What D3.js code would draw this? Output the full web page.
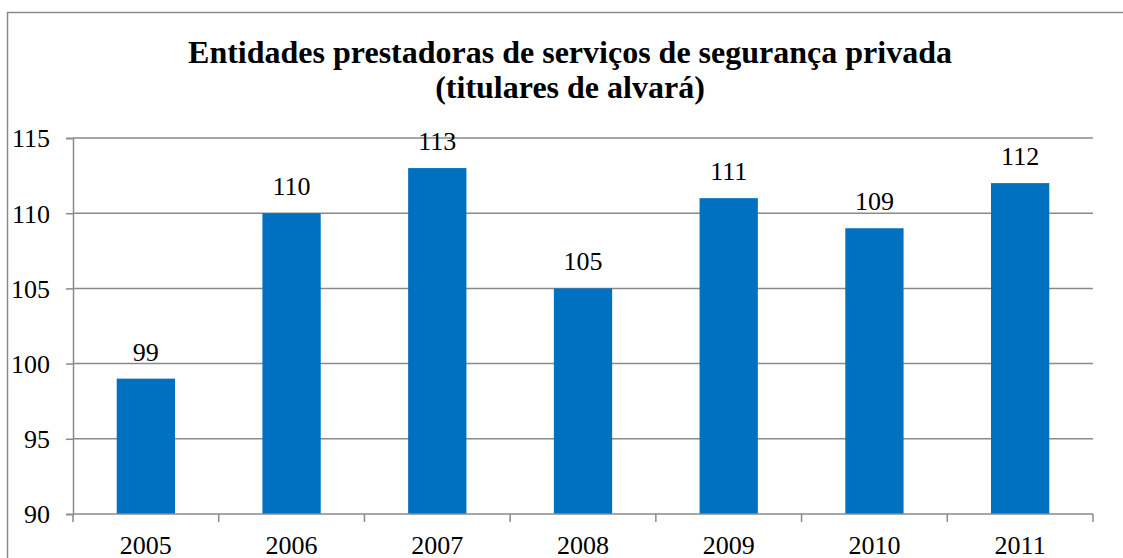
<!DOCTYPE html>
<html>
<head>
<meta charset="utf-8">
<script src="https://cdn.jsdelivr.net/npm/d3@7"></script>
<style>
  html, body { margin: 0; padding: 0; background: #fff; }
  svg { display: block; }
  text { font-family: "Liberation Serif", "Times New Roman", serif; }
</style>
</head>
<body>
<svg id="chart" width="1123" height="558"></svg>
<script>
"use strict"

var years = ["2005", "2006", "2007", "2008", "2009", "2010", "2011"]
var values = [99, 110, 113, 105, 111, 109, 112]
var yTicks = [90, 95, 100, 105, 110, 115]
var titleLines = ["Entidades prestadoras de serviços de segurança privada", "(titulares de alvará)"]

var svg = d3.select("#chart")
var W = 1123, H = 558
var m = { left: 73, right: 1093, top: 138, bottom: 514 }
var gray = "#8a8a8a"
var serif = "'Liberation Serif', 'Times New Roman', serif"

// outer chart border (runs off the right and bottom of the picture)
svg.append("rect")
  .attr("x", 7.5).attr("y", 12.5)
  .attr("width", W + 20).attr("height", H + 20)
  .attr("fill", "none").attr("stroke", gray).attr("stroke-width", 1.5)

var x = d3.scaleBand().domain(years).range([m.left, m.right]).paddingInner(0.6).paddingOuter(0.3)
var y = d3.scaleLinear().domain([90, 115]).range([m.bottom, m.top])

// gridlines
svg.append("g").selectAll("line")
  .data(yTicks.slice(1))
  .enter().append("line")
  .attr("x1", m.left).attr("x2", m.right)
  .attr("y1", function(d){ return y(d) }).attr("y2", function(d){ return y(d) })
  .attr("stroke", gray).attr("stroke-width", 1.5)

// bars
svg.append("g").selectAll("rect")
  .data(values)
  .enter().append("rect")
  .attr("x", function(d, i){ return x(years[i]) })
  .attr("width", x.bandwidth())
  .attr("y", function(d){ return y(d) })
  .attr("height", function(d){ return y(90) - y(d) })
  .attr("fill", "#0070C0")

// data labels
svg.append("g").selectAll("text")
  .data(values)
  .enter().append("text")
  .attr("x", function(d, i){ return x(years[i]) + x.bandwidth() / 2 })
  .attr("y", function(d){ return y(d) - 18 })
  .attr("text-anchor", "middle")
  .attr("font-family", serif)
  .attr("font-size", 26)
  .attr("fill", "#000")
  .text(function(d){ return d })

// y axis
var yAxis = d3.axisLeft(y).tickValues(yTicks).tickSize(7).tickPadding(16)
var gy = svg.append("g").attr("transform", "translate(" + m.left + ",0)").call(yAxis)
gy.attr("font-family", serif).attr("font-size", 26)
gy.select(".domain").attr("stroke", gray).attr("stroke-width", 1.5)
gy.selectAll(".tick line").attr("stroke", gray).attr("stroke-width", 1.5)
gy.selectAll(".tick text")
  .attr("font-family", serif)
  .attr("font-size", 26)
  .attr("fill", "#000")
  .attr("dy", "0.34em")

// x axis: ticks sit on the category boundaries
var xb = d3.scaleBand().domain(years).range([m.left, m.right])
var gx = svg.append("g").attr("transform", "translate(0," + m.bottom + ")")
gx.append("line").attr("x1", m.left).attr("x2", m.right).attr("stroke", gray).attr("stroke-width", 1.5)
gx.selectAll(".xtick")
  .data(years.concat(["end"]))
  .enter().append("line")
  .attr("x1", function(d, i){ return m.left + i * xb.step() })
  .attr("x2", function(d, i){ return m.left + i * xb.step() })
  .attr("y1", 0).attr("y2", 8)
  .attr("stroke", gray).attr("stroke-width", 1.5)
gx.selectAll(".xlabel")
  .data(years)
  .enter().append("text")
  .attr("x", function(d){ return xb(d) + xb.bandwidth() / 2 })
  .attr("y", 40)
  .attr("text-anchor", "middle")
  .attr("font-family", serif)
  .attr("font-size", 26)
  .attr("fill", "#000")
  .text(function(d){ return d })

// title
svg.append("g").selectAll("text")
  .data(titleLines)
  .enter().append("text")
  .attr("x", 570)
  .attr("y", function(d, i){ return 63 + i * 35 })
  .attr("text-anchor", "middle")
  .attr("font-family", serif)
  .attr("font-size", 32)
  .attr("font-weight", "bold")
  .attr("fill", "#000")
  .text(function(d){ return d })
</script>
</body>
</html>
